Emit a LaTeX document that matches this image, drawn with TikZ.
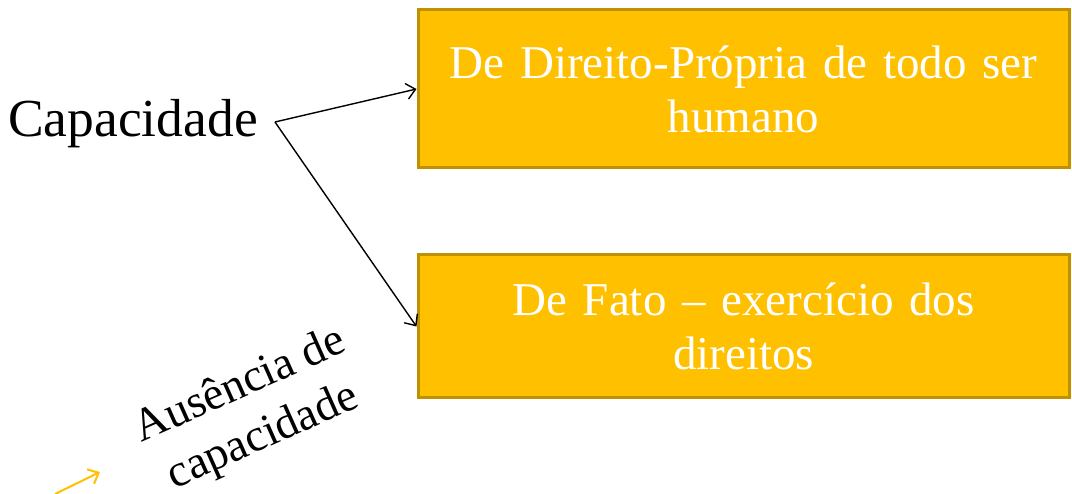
\documentclass[tikz,border=0pt]{standalone}
\usepackage{fontspec}
\setmainfont{Liberation Serif}
\usetikzlibrary{arrows.meta}
\definecolor{boxfill}{HTML}{FFC000}
\definecolor{boxline}{HTML}{BF9000}
\begin{document}
\begin{tikzpicture}[x=1pt,y=-1pt,
  bigbox/.style={draw=boxline,fill=boxfill,line width=3pt,minimum width=651pt,text width=620pt,align=center,text=white,font=\fontsize{47}{54}\selectfont,inner sep=0pt},
  conn/.style={line width=1.4pt,-{Straight Barb[length=9pt,width=16pt,line width=1.4pt]}},
  yconn/.style={draw=boxfill,line width=2pt,-{Straight Barb[length=9pt,width=16pt,line width=2pt]}}]
\useasboundingbox (0,0) rectangle (1072,494);
\node[bigbox,minimum height=158pt] (b1) at (743.5,89) {De Direito-Própria de todo ser\\humano};
\node[bigbox,minimum height=143pt] (b2) at (743.5,326.5) {De Fato – exercício dos\\direitos};
\node[anchor=base west,inner sep=0pt,font=\fontsize{53.5}{60}\selectfont] (cap) at (8,137) {Capacidade};
\coordinate (s) at (275,122);
\draw[conn] (s) -- (b1.west);
\draw[conn] (s) -- (b2.west);
\node[rotate=24,align=center,inner sep=0pt,font=\fontsize{46}{56}\selectfont] (aus) at (252,412) {Ausência de\\capacidade};
\coordinate (y0) at (55,494);
\coordinate (y1) at (100,472);
\draw[yconn] (y0) -- (y1);
\end{tikzpicture}
\end{document}
